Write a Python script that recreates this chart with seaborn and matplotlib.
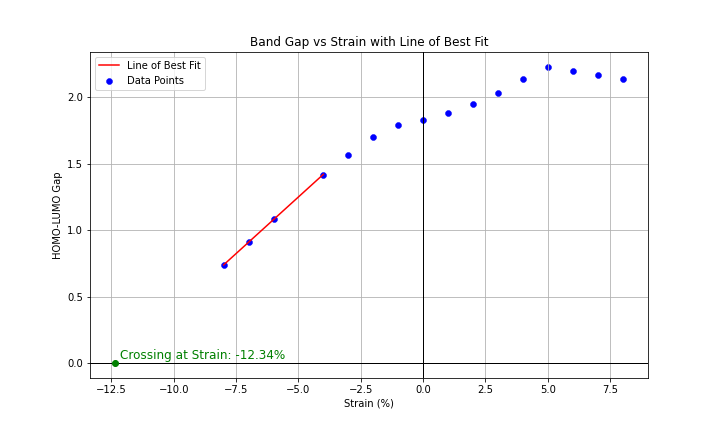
import numpy as np
import pandas as pd
import seaborn as sns
import matplotlib
matplotlib.use("Agg")
import matplotlib.pyplot as plt

# strain (%) and HOMO-LUMO gap
strain = [-8, -7, -6, -4, -3, -2, -1, 0, 1, 2, 3, 4, 5, 6, 7, 8]
gap = [0.737, 0.911, 1.084, 1.419, 1.567, 1.703, 1.794, 1.831,
       1.884, 1.952, 2.035, 2.140, 2.231, 2.201, 2.170, 2.140]

data = pd.DataFrame({"strain": strain, "gap": gap})

# fit the linear part (compressive strain up to -4 %)
fit_part = data[data["strain"] <= -4]
slope, intercept = np.polyfit(fit_part["strain"], fit_part["gap"], 1)
fit_x = fit_part["strain"].values
fit_y = slope * fit_x + intercept
crossing = -intercept / slope
print("crossing :", crossing)

fig, ax = plt.subplots(figsize=(10, 6), dpi=72)
fig.subplots_adjust(left=0.125, right=0.9, top=0.88, bottom=0.125)

sns.lineplot(x=fit_x, y=fit_y, color="red", label="Line of Best Fit", ax=ax)
sns.scatterplot(x="strain", y="gap", data=data, color="blue", edgecolor="blue",
                s=36, label="Data Points", ax=ax)

ax.axhline(0, color="black", linewidth=1)
ax.axvline(0, color="black", linewidth=1)

ax.plot(crossing, 0, "o", color="green")
ax.text(crossing + 0.2, 0.03, f"Crossing at Strain: {crossing:.2f}%",
        color="green", fontsize=12)

ax.set_title("Band Gap vs Strain with Line of Best Fit")
ax.set_xlabel("Strain (%)")
ax.set_ylabel("HOMO-LUMO Gap")
ax.grid(True)
ax.legend(loc="upper left")

fig.savefig("out.png", dpi=72)
